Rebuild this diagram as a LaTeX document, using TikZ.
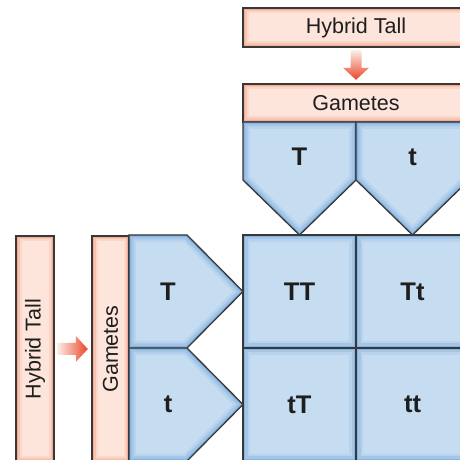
\documentclass[tikz,border=0pt]{standalone}
\usepackage{fontspec}
\setmainfont{Liberation Sans}
\usetikzlibrary{calc}
\definecolor{bluefill}{HTML}{C6DDF1}
\definecolor{blueA}{HTML}{B7D3EE}
\definecolor{blueB}{HTML}{A2C5E8}
\definecolor{blueC}{HTML}{88B3DF}
\definecolor{pinkfill}{HTML}{FDE5DB}
\definecolor{pinkA}{HTML}{FBD7C9}
\definecolor{pinkB}{HTML}{F8C4B1}
\definecolor{pinkC}{HTML}{F3AD96}
\definecolor{edgegray}{HTML}{383838}
\definecolor{arrowred}{HTML}{EA4529}
\definecolor{arrowpale}{HTML}{FDEDE7}
\definecolor{txt}{HTML}{1E1E1E}
\newcommand\bevelshape[8]{%
  \begin{scope}
    \clip #1;
    \fill[#2] #1;
    \draw[#3,line width=#6,line join=miter] #1;
    \draw[#4,line width=#7,line join=miter] #1;
    \draw[#5,line width=#8,line join=miter] #1;
  \end{scope}
  \draw[edgegray,line width=1.3pt,line join=miter] #1;}
\newcommand\bluebevel[1]{\bevelshape{#1}{bluefill}{blueA}{blueB}{blueC}{14pt}{9pt}{4pt}}
\newcommand\pinkbevel[1]{\bevelshape{#1}{pinkfill}{pinkA}{pinkB}{pinkC}{11pt}{7pt}{3.5pt}}
\tikzset{
  pinklabel/.style={inner sep=0pt, text=txt, font=\fontsize{21.5}{25}\selectfont},
  allele/.style={inner sep=0pt, text=txt, font=\fontsize{25.5}{30}\selectfont\bfseries},
  blockarrow/.style={top color=arrowpale, bottom color=arrowred, draw=none},
  sidearrow/.style={left color=arrowpale, right color=arrowred, draw=none}
}
\begin{document}
\begin{tikzpicture}[x=1pt,y=1pt]
\useasboundingbox (0,0) rectangle (460,460);
\clip (0,0) rectangle (460,460);
% pink boxes
\pinkbevel{(243,452) rectangle (469,413)}
\pinkbevel{(243,376) rectangle (469,338)}
\pinkbevel{(16,224) rectangle (54,-2)}
\pinkbevel{(92,224) rectangle (129,-2)}
% top pentagons
\bluebevel{(243,338) -- (356,338) -- (356,280) -- (299.5,225) -- (243,280) -- cycle}
\bluebevel{(356,338) -- (469,338) -- (469,280) -- (412.5,225) -- (356,280) -- cycle}
% left pentagons
\bluebevel{(129,225) -- (187,225) -- (243,168.5) -- (187,112) -- (129,112) -- cycle}
\bluebevel{(129,112) -- (187,112) -- (243,55.5) -- (187,-1) -- (129,-1) -- cycle}
% grid
\bluebevel{(243,225) rectangle (356,112)}
\bluebevel{(356,225) rectangle (469,112)}
\bluebevel{(243,112) rectangle (356,-1)}
\bluebevel{(356,112) rectangle (469,-1)}
% labels (nodes)
\node[pinklabel, minimum width=226pt, minimum height=39pt] (ht) at (356,432.5) {Hybrid Tall};
\node[pinklabel, minimum width=226pt, minimum height=38pt] (gam) at (356,357) {Gametes};
\node[pinklabel, minimum width=38pt, minimum height=226pt] (lht) at (35,111) {\rotatebox{90}{Hybrid Tall}};
\node[pinklabel, minimum width=37pt, minimum height=226pt] (lgam) at (110.5,111) {\rotatebox{90}{Gametes}};
\node[allele] (gT) at (299.5,303) {T};
\node[allele] (gt) at (412.5,303) {t};
\node[allele] (lT) at (168,168.5) {T};
\node[allele] (lt) at (168,55.5) {t};
\node[allele] (TT) at (299.5,168.5) {TT};
\node[allele] (Tt) at (412.5,168.5) {Tt};
\node[allele] (tT) at (299.5,55.5) {tT};
\node[allele] (tt) at (412.5,55.5) {tt};
% arrows
\coordinate (va) at ($(ht.south)+(0,-3)$);
\coordinate (vb) at ($(gam.north)+(0,4)$);
\shade[blockarrow] ($(va)+(-5.5,0)$) -- ($(va)+(5.5,0)$) -- ($(vb)+(5.5,12)$) -- ($(vb)+(13,12)$) -- (vb) -- ($(vb)+(-13,12)$) -- ($(vb)+(-5.5,12)$) -- cycle;
\coordinate (ha) at ($(lht.east)+(3,0)$);
\coordinate (hb) at ($(lgam.west)+(-4,0)$);
\shade[sidearrow] ($(ha)+(0,6)$) -- ($(hb)+(-12,6)$) -- ($(hb)+(-12,13)$) -- (hb) -- ($(hb)+(-12,-13)$) -- ($(hb)+(-12,-6)$) -- ($(ha)+(0,-6)$) -- cycle;
\end{tikzpicture}
\end{document}
